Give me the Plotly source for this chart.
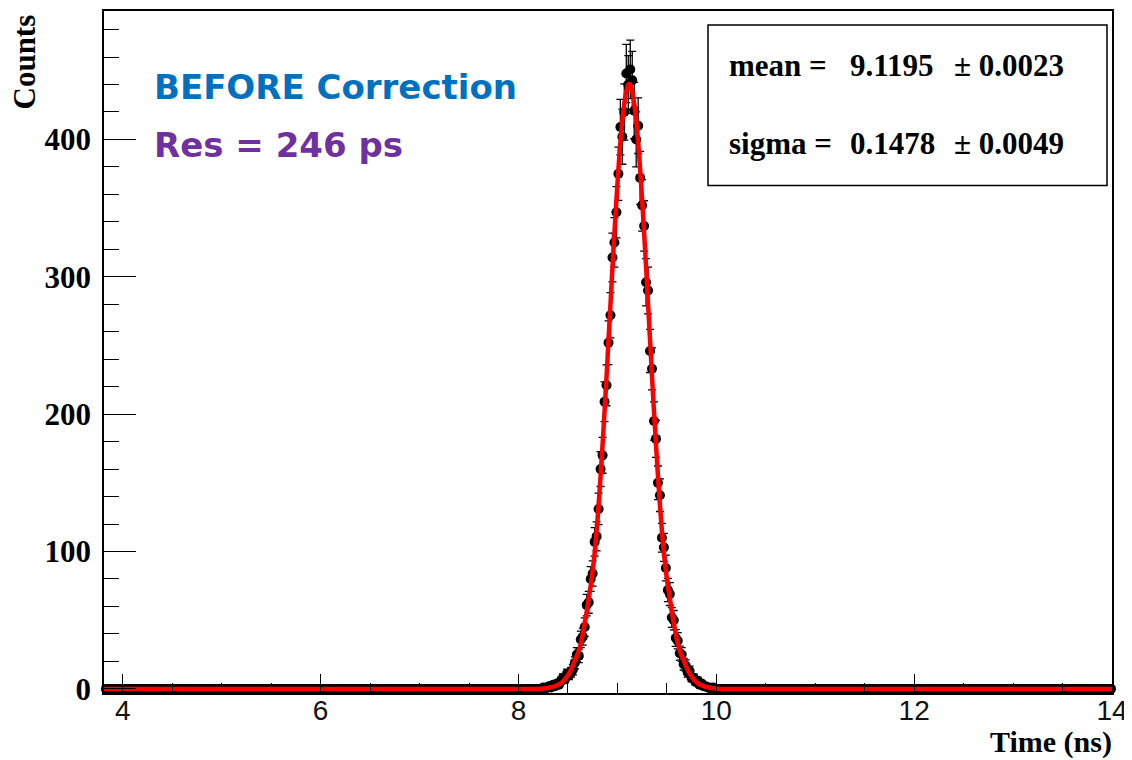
import numpy as np
import plotly.graph_objects as go

# ---------------- data ----------------
x_min, x_max = 3.81, 14.0
y_min, y_max = -3, 493.5
bin_width = 0.02
first_bin_edge = 3.82          # histogram bins: 3.82 .. 14.00, width 0.02
peak_first_center = 8.19       # first bin of the listed (non-empty) region

# counts for bins centred 8.19, 8.21, ..., 10.05  (all other bins are empty)
peak_counts = [
    0, 0, 0, 1, 0, 1, 2, 1, 3, 2, 4, 3, 6, 8, 7, 11, 10, 12, 14, 19, 25, 24,
    36, 38, 45, 61, 63, 80, 84, 107, 111, 131, 160, 170, 209, 221, 252, 272,
    314, 325, 347, 375, 409, 402, 420, 448, 440,
    451, 443, 421, 400, 410, 372, 352, 337, 296, 290, 246, 233, 195, 182, 150,
    141, 110, 103, 88, 72, 69, 52, 50, 37, 35, 26, 25, 18, 17, 12, 13, 8, 8,
    5, 6, 3, 4, 2, 2, 1, 1, 0, 1, 0, 0, 0, 0,
]

# fitted curve at the same bin centres
fit_values = [
    0, 0, 0.1, 0.2, 0.4, 0.6, 0.9, 1.2, 1.6, 2.0, 2.6, 3.3, 4.3, 5.5, 7, 9, 11,
    14, 17, 21, 24, 28, 33, 40, 48, 56, 66, 75, 86, 99, 115, 134, 155, 178,
    202, 227, 254, 280, 307, 332, 356, 378, 398, 414, 426, 435, 440,
    440, 435, 426, 414, 398, 378, 356, 332, 307, 280, 254, 227, 202, 178, 155,
    134, 115, 99, 86, 75, 66, 56, 48, 40, 33, 28, 24, 21, 17, 14, 11, 9, 7,
    5.5, 4.3, 3.3, 2.6, 2.0, 1.6, 1.2, 0.9, 0.6, 0.4, 0.2, 0.1, 0, 0,
]

stat_labels = ["mean =", "sigma ="]
stat_values = ["9.1195", "0.1478"]
stat_errors = ["0.0023", "0.0049"]
title_line1 = "BEFORE Correction"
title_line2 = "Res = 246 ps"

x_ticks = [4, 6, 8, 10, 12, 14]
y_ticks = [0, 100, 200, 300, 400]

# ---------------- build histogram arrays ----------------
n_bins = int(round((x_max - first_bin_edge) / bin_width))
centers = np.round(first_bin_edge + bin_width * (np.arange(n_bins) + 0.5), 4)
counts = np.zeros(n_bins)
start = int(round((peak_first_center - centers[0]) / bin_width))
counts[start:start + len(peak_counts)] = peak_counts

peak_centers = np.round(peak_first_center + bin_width * np.arange(len(fit_values)), 4)
fit_x = np.concatenate([[x_min], peak_centers, [x_max]])
fit_y = np.concatenate([[0], fit_values, [0]])

nz = counts > 0

fig = go.Figure()
fig.add_trace(go.Scatter(
    x=centers[~nz], y=counts[~nz], mode="markers",
    marker=dict(color="black", size=10), cliponaxis=False, showlegend=False))
fig.add_trace(go.Scatter(
    x=centers[nz], y=counts[nz], mode="markers",
    marker=dict(color="black", size=10),
    error_y=dict(type="data", array=np.sqrt(counts[nz]), color="black",
                 thickness=1.3, width=4),
    cliponaxis=False, showlegend=False))
fig.add_trace(go.Scatter(
    x=fit_x, y=fit_y, mode="lines",
    line=dict(color="#ff0000", width=4.5, shape="spline", smoothing=0.6),
    showlegend=False))

serif = "Liberation Serif"
# page body has an 8px margin: figure is 1124x752 placed at (8, 8)
fig.update_layout(
    width=1124, height=752,
    margin=dict(l=96, r=20, t=1, b=67),
    paper_bgcolor="white", plot_bgcolor="white",
    xaxis=dict(range=[x_min, x_max], tickvals=x_ticks, ticks="inside", ticklen=19,
               tickwidth=1.2, tickcolor="black", showgrid=False, zeroline=False,
               showline=True, linecolor="black", linewidth=1.5, mirror=True,
               tickfont=dict(family="Liberation Sans", size=28, color="#111"),
               ticklabelstandoff=-8,
               minor=dict(dtick=0.5, tick0=4, ticks="inside", ticklen=10,
                          tickcolor="black", tickwidth=1.2, showgrid=False),
               layer="above traces"),
    yaxis=dict(range=[y_min, y_max], tickvals=y_ticks, ticks="inside", ticklen=32,
               tickwidth=1.2, tickcolor="black", showgrid=False, zeroline=False,
               showline=True, linecolor="black", linewidth=1.5, mirror=True,
               tickfont=dict(family=serif, size=31, color="black", weight="bold"),
               ticklabelstandoff=5,
               minor=dict(dtick=20, tick0=0, ticks="inside", ticklen=15,
                          tickcolor="black", tickwidth=1.2, showgrid=False),
               layer="above traces"),
)

# helpers: reference-picture pixels -> paper coordinates
def px(xp):
    return (xp - 104) / 1008.0

def py(yp):
    return (693 - yp) / 684.0

# stats box
fig.add_shape(type="rect", xref="paper", yref="paper",
              x0=px(708), x1=px(1107), y0=py(184), y1=py(23),
              line=dict(color="black", width=1.5), fillcolor="white", layer="above")
stat_font = dict(family=serif, size=31, color="black", weight="bold")
for lab, val, err, yc in zip(stat_labels, stat_values, stat_errors, [64, 142]):
    fig.add_annotation(xref="paper", yref="paper", x=px(727), y=py(yc),
                       xanchor="left", yanchor="middle", showarrow=False,
                       text=lab, font=stat_font)
    fig.add_annotation(xref="paper", yref="paper", x=px(848), y=py(yc),
                       xanchor="left", yanchor="middle", showarrow=False,
                       text=val, font=stat_font)
    fig.add_annotation(xref="paper", yref="paper", x=px(952), y=py(yc),
                       xanchor="left", yanchor="middle", showarrow=False,
                       text="\u00b1 " + err, font=stat_font)

# labels inside plot
fig.add_annotation(xref="paper", yref="paper", x=px(152), y=py(85),
                   xanchor="left", yanchor="middle", showarrow=False,
                   text=title_line1,
                   font=dict(family="DejaVu Sans", size=34, color="#0070C0", weight="bold"))
fig.add_annotation(xref="paper", yref="paper", x=px(152), y=py(143),
                   xanchor="left", yanchor="middle", showarrow=False,
                   text=title_line2,
                   font=dict(family="DejaVu Sans", size=34, color="#7030A0", weight="bold"))

# axis titles
fig.add_annotation(xref="paper", yref="paper", x=px(1114), y=py(742),
                   xanchor="right", yanchor="middle", showarrow=False,
                   text="Time (ns)",
                   font=dict(family=serif, size=30, color="black", weight="bold"))
fig.add_annotation(xref="paper", yref="paper", x=px(24), y=py(11),
                   xanchor="center", yanchor="top", showarrow=False, textangle=-90,
                   text="Counts",
                   font=dict(family=serif, size=31, color="black", weight="bold"))

fig.write_html("out.html")
